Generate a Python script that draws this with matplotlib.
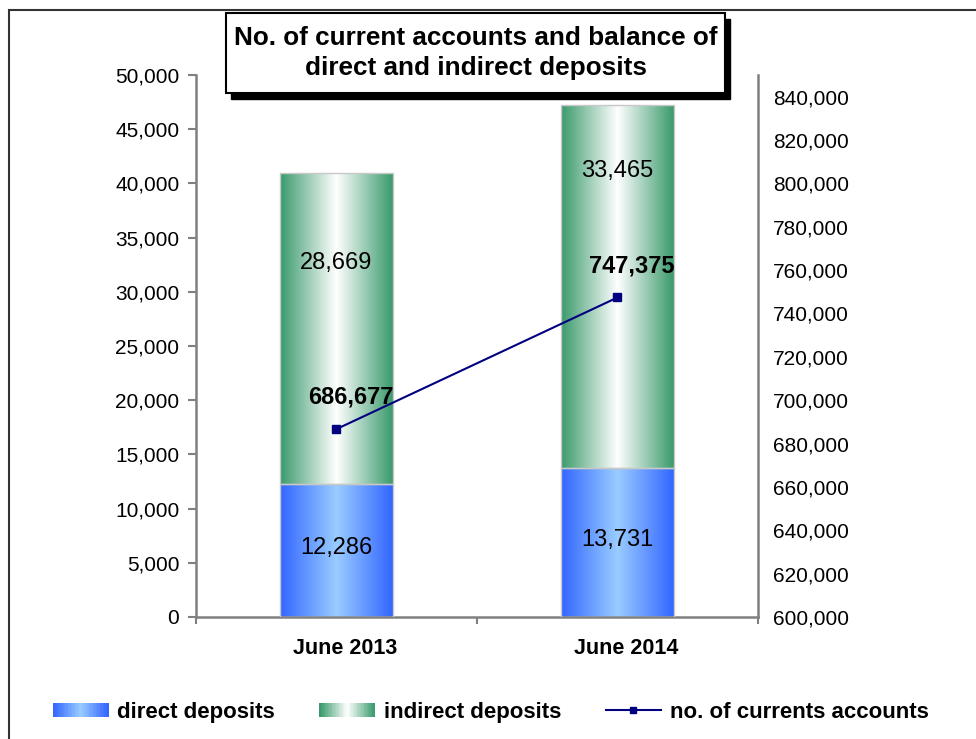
import numpy as np
import matplotlib
matplotlib.use('Agg')
import matplotlib.pyplot as plt
from matplotlib.colors import LinearSegmentedColormap
from matplotlib.patches import Rectangle
from matplotlib.lines import Line2D
from matplotlib.legend_handler import HandlerBase
from matplotlib.ticker import StrMethodFormatter
from matplotlib.transforms import ScaledTranslation

plt.rcParams['font.family'] = ['Liberation Sans', 'DejaVu Sans']

# 数据
periods = ['June 2013', 'June 2014']
direct = [12286, 13731]
indirect = [28669, 33465]
accounts = [686677, 747375]

# 渐变色
blue_cmap = LinearSegmentedColormap.from_list('blue', [(0, '#3366ff'), (0.5, '#99ccff'), (1, '#3366ff')])
green_cmap = LinearSegmentedColormap.from_list('green', [(0, '#3a9a6c'), (0.5, '#ffffff'), (1, '#3a9a6c')])


class GradientHandler(HandlerBase):
    def __init__(self, cmap):
        super().__init__()
        self.cmap = cmap

    def create_artists(self, legend, orig_handle, xdescent, ydescent, width, height, fontsize, trans):
        n = 40
        step = width / n
        arts = []
        for i in range(n):
            arts.append(Rectangle((-xdescent + i * step, -ydescent), step * 1.1, height,
                                  facecolor=self.cmap(i / (n - 1)), edgecolor='none', transform=trans))
        return arts


fig = plt.figure(figsize=(9.76, 7.39), dpi=100)
ax = fig.add_axes([0.2008, 0.1651, 0.5758, 0.7334])

x = np.arange(len(periods))
width = 0.40
grad = np.linspace(0, 1, 256).reshape(1, -1)

b1 = ax.bar(x, direct, width, facecolor='none', edgecolor='#c8c8c8', linewidth=1, zorder=3)
b2 = ax.bar(x, indirect, width, bottom=direct, facecolor='none', edgecolor='#c8c8c8', linewidth=1, zorder=3)

# 用图像填充渐变
for bars, cmap in ((b1, blue_cmap), (b2, green_cmap)):
    for p in bars:
        x0, y0 = p.get_x(), p.get_y()
        ax.imshow(grad, cmap=cmap, aspect='auto', zorder=2,
                  extent=(x0, x0 + p.get_width(), y0, y0 + p.get_height()))

# 柱内标签
indirect_pos = [0.71, 0.82]
for i in range(len(periods)):
    ax.text(x[i], direct[i] * 0.52, f'{direct[i]:,}', ha='center', va='center', fontsize=17, zorder=5)
    ax.text(x[i], direct[i] + indirect[i] * indirect_pos[i], f'{indirect[i]:,}',
            ha='center', va='center', fontsize=17, zorder=5)

ax.set_xlim(-0.5, 1.5)
ax.set_ylim(0, 50000)
ax.set_yticks(np.arange(0, 50001, 5000))
ax.yaxis.set_major_formatter(StrMethodFormatter('{x:,.0f}'))
ax.set_xticks(x)
ax.set_xticklabels(periods, fontsize=15.5, fontweight='bold')
ax.set_xticks([-0.5, 0.5, 1.5], minor=True)
ax.tick_params(axis='x', which='major', length=0, pad=15)
ax.tick_params(axis='x', which='minor', length=5, width=1.5, color='#808080', direction='out')
ax.tick_params(axis='y', length=6, width=1.5, color='#808080', labelsize=15, pad=6)
for lab in ax.get_xticklabels():
    lab.set_transform(lab.get_transform() + ScaledTranslation(0.09, 0, fig.dpi_scale_trans))
for s in ['top', 'right']:
    ax.spines[s].set_visible(False)
for s in ['left', 'bottom']:
    ax.spines[s].set_color('#808080')
    ax.spines[s].set_linewidth(1.8)

# 第二坐标轴：账户数
ax2 = ax.twinx()
ax2.plot(x, accounts, color='#000080', linewidth=1.5, marker='s', markersize=6, zorder=6)
for i in range(len(periods)):
    ax2.annotate(f'{accounts[i]:,}', (x[i], accounts[i]), xytext=(10, 23), textcoords='offset points',
                 ha='center', va='center', fontsize=17, fontweight='bold')
ax2.set_ylim(600000, 850000)
ax2.set_yticks(np.arange(600000, 840001, 20000))
ax2.yaxis.set_major_formatter(StrMethodFormatter('{x:,.0f}'))
ax2.tick_params(axis='y', length=0, labelsize=15, pad=11)
for s in ['top', 'left', 'bottom']:
    ax2.spines[s].set_visible(False)
ax2.spines['right'].set_color('#808080')
ax2.spines['right'].set_linewidth(1.8)

# 标题框（带阴影）
bx, by, bw, bh = 0.2316, 0.8742, 0.5113, 0.1083
fig.patches.append(Rectangle((bx + 0.0055, by - 0.0085), bw, bh, transform=fig.transFigure,
                             facecolor='black', edgecolor='black', zorder=1))
fig.patches.append(Rectangle((bx, by), bw, bh, transform=fig.transFigure,
                             facecolor='white', edgecolor='black', linewidth=1.5, zorder=2))
fig.text(bx + bw / 2, by + bh / 2, 'No. of current accounts and balance of\ndirect and indirect deposits',
         ha='center', va='center', fontsize=18.8, fontweight='bold', linespacing=1.35, zorder=3)

# 外框
fig.patches.append(Rectangle((0.0092, -0.05), 1.2, 0.9865 + 0.05, transform=fig.transFigure,
                             facecolor='none', edgecolor='#333333', linewidth=1.5))

# 图例
h1 = Rectangle((0, 0), 1, 1)
h2 = Rectangle((0, 0), 1, 1)
h3 = Line2D([], [], color='#000080', linewidth=1.5, marker='s', markersize=5)
fig.legend([h1, h2, h3], ['direct deposits', 'indirect deposits', 'no. of currents accounts'],
           handler_map={h1: GradientHandler(blue_cmap), h2: GradientHandler(green_cmap)},
           loc='center', bbox_to_anchor=(0.503, 0.036), ncol=3, frameon=False,
           prop={'size': 16, 'weight': 'bold'}, handlelength=2.5, handleheight=0.6,
           handletextpad=0.4, columnspacing=2.0)

fig.savefig('out.png', dpi=100)
